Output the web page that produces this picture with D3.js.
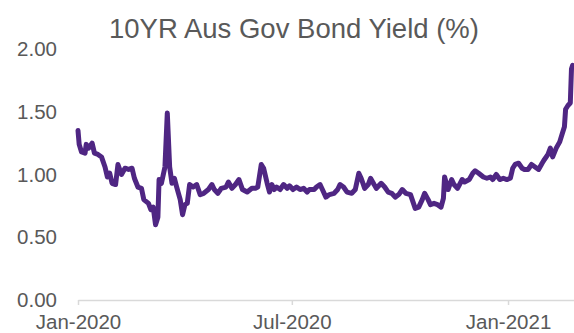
<!DOCTYPE html>
<html>
<head>
<meta charset="utf-8">
<script src="https://cdn.jsdelivr.net/npm/d3@7"></script>
<style>
  body { margin: 0; background: #fff; }
  svg { display: block; font-family: "Liberation Sans", Arial, sans-serif; }
</style>
</head>
<body>
<svg id="chart"></svg>
<script>
// title + axis labels
const title = "10YR Aus Gov Bond Yield (%)";
const yTicks = [0, 0.5, 1, 1.5, 2];
const xTicks = ["2020-01-01", "2020-07-01", "2021-01-01"];

// series
const dates = [
  "2020-01-01","2020-01-02","2020-01-04","2020-01-07","2020-01-08","2020-01-10","2020-01-13","2020-01-15","2020-01-18","2020-01-21",
  "2020-01-24","2020-01-26","2020-01-28","2020-01-30","2020-02-02","2020-02-04","2020-02-07","2020-02-10","2020-02-13","2020-02-16",
  "2020-02-18","2020-02-21","2020-02-24","2020-02-26","2020-03-01","2020-03-03","2020-03-05","2020-03-07","2020-03-09","2020-03-10",
  "2020-03-12","2020-03-15","2020-03-17","2020-03-19","2020-03-21","2020-03-23","2020-03-25","2020-03-28","2020-03-30","2020-04-01",
  "2020-04-03","2020-04-05","2020-04-08","2020-04-11","2020-04-14","2020-04-17","2020-04-21","2020-04-24","2020-04-26","2020-04-29",
  "2020-05-02","2020-05-06","2020-05-08","2020-05-11","2020-05-14","2020-05-17","2020-05-20","2020-05-24","2020-05-28","2020-05-31",
  "2020-06-02","2020-06-05","2020-06-07","2020-06-10","2020-06-12","2020-06-14","2020-06-16","2020-06-18","2020-06-21","2020-06-24",
  "2020-06-27","2020-06-29","2020-07-02","2020-07-05","2020-07-08","2020-07-11","2020-07-14","2020-07-16","2020-07-20","2020-07-22",
  "2020-07-25","2020-07-27","2020-07-30","2020-08-02","2020-08-06","2020-08-09","2020-08-11","2020-08-14","2020-08-17","2020-08-21",
  "2020-08-24","2020-08-27","2020-08-29","2020-09-01","2020-09-04","2020-09-06","2020-09-09","2020-09-11","2020-09-15","2020-09-18",
  "2020-09-21","2020-09-24","2020-09-27","2020-09-30","2020-10-03","2020-10-06","2020-10-10","2020-10-14","2020-10-17","2020-10-20",
  "2020-10-22","2020-10-25","2020-10-27","2020-10-30","2020-11-02","2020-11-05","2020-11-07","2020-11-08","2020-11-11","2020-11-14",
  "2020-11-16","2020-11-19","2020-11-23","2020-11-25","2020-11-29","2020-12-02","2020-12-04","2020-12-07","2020-12-11","2020-12-14",
  "2020-12-17","2020-12-19","2020-12-22","2020-12-25","2020-12-28","2020-12-31","2021-01-03","2021-01-05","2021-01-07","2021-01-10",
  "2021-01-13","2021-01-15","2021-01-18","2021-01-21","2021-01-24","2021-01-27","2021-01-30","2021-02-01","2021-02-04","2021-02-06",
  "2021-02-08","2021-02-11","2021-02-14","2021-02-16","2021-02-18","2021-02-19","2021-02-21","2021-02-23","2021-02-24","2021-02-25"
];
const yields = [
  1.35,1.24,1.18,1.17,1.24,1.21,1.25,1.17,1.16,1.14,
  1.06,0.98,1.01,0.93,0.92,1.08,1.00,1.05,1.04,1.05,
  0.97,0.90,0.89,0.80,0.77,0.72,0.74,0.60,0.66,0.96,
  0.93,1.06,1.49,1.06,0.93,0.97,0.90,0.80,0.68,0.76,
  0.77,0.92,0.90,0.92,0.84,0.85,0.88,0.92,0.88,0.85,
  0.89,0.90,0.94,0.89,0.92,0.96,0.88,0.86,0.89,0.89,
  0.90,1.08,1.05,0.93,0.86,0.92,0.88,0.90,0.88,0.92,
  0.89,0.91,0.88,0.90,0.88,0.89,0.86,0.88,0.88,0.90,
  0.92,0.88,0.82,0.84,0.85,0.88,0.92,0.90,0.86,0.85,
  0.88,1.01,0.97,0.89,0.92,0.97,0.92,0.89,0.93,0.90,
  0.86,0.85,0.82,0.84,0.88,0.85,0.84,0.73,0.74,0.80,
  0.85,0.80,0.76,0.77,0.76,0.74,0.81,0.98,0.88,0.96,
  0.92,0.89,0.96,0.94,0.96,1.01,1.03,1.01,0.98,0.97,
  0.98,0.96,1.00,0.96,0.97,0.96,0.97,1.05,1.08,1.09,
  1.05,1.04,1.04,1.08,1.06,1.04,1.09,1.12,1.16,1.21,
  1.14,1.21,1.26,1.32,1.38,1.52,1.55,1.57,1.84,1.87
];

class LineChart {
  constructor(_config) {
    this.config = {
      parentElement: _config.parentElement,
      containerWidth: _config.containerWidth || 574,
      containerHeight: _config.containerHeight || 333
    };
    this.initVis();
  }

  initVis() {
    let vis = this;
    const parse = d3.timeParse("%Y-%m-%d");
    vis.data = dates.map((d, i) => ({ date: parse(d), value: yields[i] }));

    vis.svg = d3.select(vis.config.parentElement)
      .attr("width", vis.config.containerWidth)
      .attr("height", vis.config.containerHeight);

    vis.x = d3.scaleTime()
      .domain([parse("2020-01-01"), parse("2021-02-27")])
      .range([78, 575]);
    vis.y = d3.scaleLinear().domain([0, 2]).range([300, 49]);

    // title
    vis.svg.append("text")
      .attr("x", 294)
      .attr("y", 38)
      .attr("text-anchor", "middle")
      .attr("font-size", "27.5px")
      .attr("fill", "#595959")
      .text(title);

    // y labels (no axis line)
    vis.svg.append("g").selectAll("text")
      .data(yTicks)
      .join("text")
        .attr("x", 57)
        .attr("y", d => vis.y(d))
        .attr("dy", "0.35em")
        .attr("text-anchor", "end")
        .attr("font-size", "20.5px")
        .attr("fill", "#595959")
        .text(d => d3.format(".2f")(d));

    // x axis
    const xAxis = d3.axisBottom(vis.x)
      .tickValues(xTicks.map(parse))
      .tickFormat(d3.timeFormat("%b-%Y"))
      .tickSize(5)
      .tickSizeOuter(0);
    const gx = vis.svg.append("g")
      .attr("transform", "translate(0,300)")
      .call(xAxis);
    gx.select(".domain").attr("stroke", "#d9d9d9").attr("stroke-width", 1.5);
    gx.selectAll(".tick line").attr("stroke", "#d9d9d9").attr("stroke-width", 1.5);
    gx.selectAll(".tick text")
      .attr("y", 14)
      .attr("font-size", "20.5px")
      .attr("font-family", "Liberation Sans, Arial, sans-serif")
      .attr("fill", "#595959");

    // the yield line
    const line = d3.line()
      .x(d => vis.x(d.date))
      .y(d => vis.y(d.value));
    vis.svg.append("path")
      .datum(vis.data)
      .attr("fill", "none")
      .attr("stroke", "#4f2683")
      .attr("stroke-width", 5)
      .attr("stroke-linejoin", "round")
      .attr("stroke-linecap", "round")
      .attr("d", line);
  }
}

new LineChart({ parentElement: "#chart" });
</script>
</body>
</html>
